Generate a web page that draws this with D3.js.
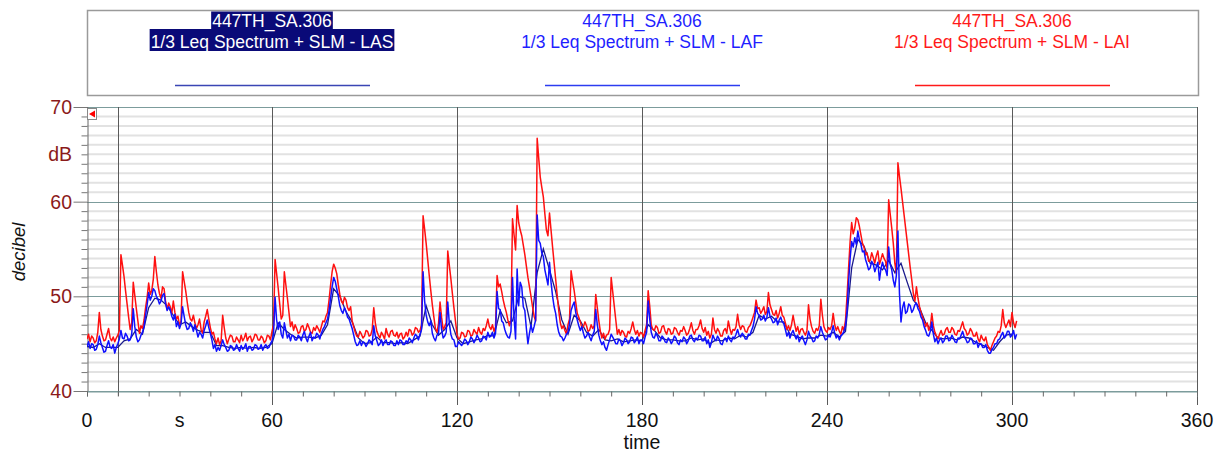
<!DOCTYPE html>
<html>
<head>
<meta charset="utf-8">
<script src="https://cdn.jsdelivr.net/npm/d3@7"></script>
<style>
  html, body { margin: 0; padding: 0; background: #fff; }
  svg { display: block; font-family: "Liberation Sans", Arial, sans-serif; }
</style>
</head>
<body>
<svg id="chart" width="1219" height="454"></svg>
<script>
// ---- data -------------------------------------------------------------
// Sound level records of 447TH_SA.306 (dB), one value every 0.5 s
const laiValues = [
  45.5,46.0, 45.2,45.8, 45.6,45.1, 45.3,46.2, 48.3,46.5,
  45.8,45.3, 45.4,46.0, 46.6,45.6, 45.3,45.7, 45.2,45.6,
  45.9,46.4, 54.4,53.3, 52.1,50.6, 49.2,47.8, 46.5,47.2,
  51.5,50.1, 48.7,47.4, 46.1,46.9, 46.6,47.5, 48.8,49.9,
  51.4,50.2, 50.6,51.8, 54.2,52.6, 51.2,50.3, 49.8,51.0,
  50.8,49.4, 48.6,49.3, 48.9,48.2, 49.5,48.3, 47.6,47.9,
  46.9,47.4, 52.6,51.6, 50.6,49.4, 48.3,47.6, 47.4,48.0,
  47.2,46.6, 47.0,47.6, 46.5,46.1, 47.3,47.9, 48.6,47.6,
  46.7,46.0, 46.2,45.5, 45.0,45.6, 44.9,45.3, 48.0,46.7,
  45.6,45.0, 45.5,45.9, 45.8,45.2, 45.2,45.7, 45.4,45.1,
  45.9,45.3, 45.6,46.1, 45.3,45.7, 45.8,45.2, 45.5,46.0,
  45.9,45.4, 45.4,45.8, 45.6,45.1, 45.3,45.9, 45.8,45.4,
  46.3,47.0, 53.9,52.4, 50.9,49.2, 47.6,48.0, 52.6,51.2,
  49.8,48.3, 46.8,47.3, 46.4,47.0, 46.6,46.1, 46.2,46.8,
  46.9,46.3, 46.5,47.1, 46.7,46.2, 46.1,46.7, 46.4,46.9,
  46.6,46.2, 46.8,47.4, 47.3,47.9, 48.3,49.6, 51.2,52.6,
  53.4,53.0, 52.4,51.2, 50.2,49.5, 49.2,49.9, 49.6,48.8,
  48.5,48.9, 47.4,46.8, 46.2,45.8, 45.7,46.3, 46.0,45.6,
  45.8,46.4, 46.3,45.8, 45.9,46.5, 48.8,47.2, 46.3,45.9,
  45.6,46.2, 45.9,45.5, 46.6,46.0, 45.7,46.3, 46.4,45.9,
  45.8,46.2, 45.6,46.0, 46.1,45.5, 45.7,46.2, 45.8,46.5,
  46.4,45.9, 46.1,46.7, 46.6,46.2, 46.4,47.0, 58.5,57.1,
  55.6,53.9, 52.2,50.6, 49.1,47.8, 46.6,46.2, 47.1,49.4,
  47.8,46.5, 46.8,47.2, 54.8,53.3, 51.9,50.3, 48.8,47.4,
  46.0,45.5, 45.6,46.2, 46.1,45.7, 45.8,46.4, 46.3,45.8,
  45.9,46.5, 46.2,46.0, 46.7,46.2, 46.0,46.6, 46.4,46.9,
  47.6,46.8, 46.5,47.0, 46.3,46.8, 52.2,51.0, 51.3,50.5,
  49.6,48.9, 48.3,47.5, 46.9,47.4, 58.2,56.5, 54.9,59.6,
  57.8,57.0, 56.4,55.4, 54.4,53.2, 52.0,51.0, 50.0,48.9,
  47.9,47.4, 66.7,64.6, 62.6,61.5, 60.5,58.7, 57.0,56.4,
  58.8,57.0, 55.2,53.5, 51.8,50.1, 48.5,47.2, 46.6,46.9,
  46.4,46.0, 47.0,47.6, 52.7,51.6, 50.6,49.4, 48.2,47.8,
  47.3,46.7, 46.8,47.3, 46.9,46.3, 46.4,47.0, 46.6,46.9,
  50.2,48.8, 47.4,46.3, 45.6,46.1, 45.5,45.9, 46.0,46.5,
  52.0,50.5, 49.0,47.5, 46.0,46.5, 45.9,46.4, 46.2,45.8,
  45.7,46.3, 46.1,46.6, 47.3,46.5, 46.0,46.4, 45.8,46.2,
  46.1,45.7, 46.4,47.0, 50.6,49.0, 47.0,46.5, 46.4,46.9,
  46.7,46.1, 46.2,46.8, 46.9,46.3, 46.0,46.6, 46.5,46.0,
  46.1,46.7, 46.6,46.2, 45.9,46.4, 46.3,46.8, 46.4,45.9,
  46.1,46.6, 47.2,46.4, 46.0,46.5, 46.5,46.9, 47.5,46.6,
  46.2,46.7, 45.9,46.3, 45.6,46.0, 47.7,46.5, 46.1,46.6,
  46.3,45.8, 45.8,46.4, 46.6,46.1, 47.4,46.6, 46.0,46.5,
  46.4,46.8, 48.1,47.0, 46.5,46.9, 46.8,46.3, 46.2,46.7,
  46.9,47.3, 47.8,48.3, 49.6,48.7, 48.8,48.2, 48.5,48.9,
  48.1,48.4, 50.4,49.1, 48.6,48.1, 48.0,48.5, 47.7,48.2,
  48.9,48.0, 47.8,47.2, 46.5,46.9, 46.4,47.0, 48.0,47.1,
  46.3,46.8, 46.0,46.5, 46.6,46.2, 45.9,46.4, 49.1,47.6,
  46.8,46.3, 46.1,46.6, 46.4,46.9, 49.7,48.0, 46.8,46.4,
  46.2,46.7, 46.5,46.9, 48.2,47.0, 46.4,46.8, 46.3,46.0,
  46.8,46.4, 47.5,50.0, 53.0,55.8, 57.8,56.6, 57.2,58.3,
  58.1,57.4, 56.5,55.6, 55.2,54.4, 54.6,53.7, 53.8,54.6,
  54.1,53.5, 54.3,54.8, 53.4,53.9, 54.5,54.0, 53.7,52.9,
  60.2,58.7, 57.2,55.6, 53.5,52.4, 64.1,62.7, 61.4,60.0,
  58.6,57.2, 55.8,54.4, 53.0,51.7, 50.3,49.5, 51.0,49.8,
  48.9,48.3, 47.8,47.3, 46.8,47.2, 46.4,46.8, 48.2,46.9,
  46.2,45.8, 45.5,46.0, 46.4,45.9, 46.0,46.5, 46.7,46.2,
  46.2,46.7, 46.5,46.0, 45.9,46.4, 46.3,46.8, 47.3,46.6,
  46.4,45.9, 46.1,46.6, 46.3,45.8, 45.8,46.2, 45.5,45.2,
  45.9,45.5, 45.3,45.7, 44.9,44.6, 44.3,44.8, 45.2,45.6,
  45.8,46.3, 46.2,46.9, 48.6,47.2, 46.7,47.1, 47.5,46.8,
  48.3,47.2, 46.7,47.4
];

const lafValues = [
  44.7,45.2, 44.5,45.0, 44.9,44.3, 44.4,44.9, 45.8,45.1,
  44.6,44.1, 44.2,44.8, 45.3,44.6, 44.5,44.9, 44.0,44.6,
  45.0,45.5, 46.4,45.6, 45.5,46.1, 45.8,45.3, 45.4,46.0,
  48.7,46.8, 45.7,45.2, 45.4,45.9, 46.2,46.8, 48.0,49.1,
  50.4,49.6, 50.0,50.8, 50.6,50.0, 49.7,49.2, 49.5,50.1,
  50.3,49.2, 48.5,48.9, 48.6,47.9, 47.5,48.1, 46.8,47.3,
  46.6,47.1, 48.9,47.9, 47.0,46.5, 46.6,47.2, 46.9,46.3,
  47.0,46.4, 45.7,46.2, 46.0,45.6, 46.4,46.9, 47.5,46.7,
  46.1,45.4, 44.5,44.9, 44.2,44.6, 44.3,44.8, 45.4,44.9,
  44.6,44.2, 44.3,44.8, 44.7,44.3, 44.4,44.9, 44.5,44.2,
  44.8,44.4, 44.6,45.0, 44.2,44.7, 44.7,44.3, 44.4,44.9,
  44.8,44.4, 44.5,44.9, 44.3,44.7, 44.9,44.5, 44.6,45.0,
  45.3,46.0, 49.9,47.5, 46.5,47.3, 46.0,45.6, 47.2,46.4,
  45.6,46.0, 45.3,45.9, 45.8,45.4, 45.4,45.9, 45.7,45.3,
  45.9,46.3, 45.6,45.2, 45.8,46.2, 45.3,45.7, 45.6,46.1,
  45.9,45.5, 46.1,46.5, 46.8,47.2, 47.6,48.5, 49.8,51.0,
  52.0,51.6, 50.8,50.0, 49.0,48.5, 48.2,48.8, 48.4,47.8,
  47.6,47.1, 46.6,45.9, 45.2,44.8, 44.9,45.3, 44.8,45.2,
  45.1,44.7, 45.0,45.4, 45.2,44.9, 46.9,45.8, 45.3,44.8,
  45.0,45.4, 44.8,45.2, 45.4,44.9, 44.9,45.3, 45.2,44.8,
  44.8,45.3, 44.9,45.4, 45.3,44.9, 44.9,45.3, 45.1,45.6,
  45.4,45.1, 45.6,46.0, 45.8,45.4, 46.0,46.5, 52.6,49.5,
  48.0,47.3, 46.9,47.4, 46.1,45.6, 45.3,45.9, 46.0,48.3,
  46.5,45.6, 45.8,46.2, 49.4,47.2, 46.0,45.5, 45.4,44.7,
  44.7,45.2, 45.0,44.8, 45.1,45.5, 45.3,44.9, 45.2,45.7,
  45.5,45.1, 45.4,45.9, 45.6,45.2, 45.3,45.8, 45.7,45.4,
  46.2,45.7, 45.8,46.2, 45.6,46.1, 50.5,48.7, 48.6,47.4,
  47.2,46.5, 46.0,45.7, 45.6,46.3, 52.0,47.8, 45.5,52.9,
  49.0,51.5, 51.0,48.9, 48.5,46.6, 45.0,46.1, 47.0,46.2,
  46.8,47.5, 58.6,55.9, 55.6,54.6, 54.2,52.8, 52.0,51.2,
  53.6,51.5, 50.0,48.9, 48.2,47.0, 46.2,45.8, 45.7,45.3,
  45.6,46.0, 46.2,47.1, 48.5,49.0, 49.4,48.3, 47.5,46.9,
  46.4,46.8, 46.1,45.6, 45.8,46.2, 45.7,45.3, 45.9,46.3,
  48.6,47.0, 45.9,45.3, 44.9,45.2, 44.6,44.3, 44.9,45.4,
  46.0,45.7, 45.4,45.0, 45.0,45.5, 45.3,44.8, 45.1,45.6,
  45.4,45.0, 45.2,45.7, 45.6,45.1, 45.3,45.7, 45.0,45.4,
  45.4,45.0, 45.7,46.2, 49.5,47.6, 46.2,45.7, 45.6,46.1,
  45.8,45.3, 45.3,45.8, 45.6,45.2, 45.1,45.6, 45.4,45.0,
  45.3,45.8, 45.6,45.1, 44.9,45.4, 45.2,45.7, 45.5,45.0,
  45.3,45.8, 45.9,45.4, 45.2,45.6, 45.4,45.9, 45.8,45.3,
  45.3,45.7, 45.0,45.4, 44.6,45.1, 45.9,45.5, 45.3,45.8,
  45.5,45.0, 44.9,45.4, 45.6,45.2, 45.8,45.4, 45.2,45.7,
  45.6,46.0, 46.5,45.9, 45.7,46.1, 45.9,45.5, 45.5,46.0,
  45.9,46.4, 46.8,47.6, 48.9,48.2, 48.0,47.5, 47.6,48.0,
  47.4,47.8, 48.8,47.9, 47.6,47.2, 47.3,47.7, 47.0,47.5,
  47.8,47.3, 47.1,46.5, 45.8,46.2, 45.6,46.1, 46.4,45.9,
  45.5,45.9, 45.2,45.6, 45.8,45.3, 44.9,45.4, 46.3,45.8,
  45.6,45.2, 45.3,45.8, 45.6,46.0, 46.8,46.2, 45.8,45.4,
  45.5,45.9, 45.7,46.2, 46.9,46.1, 45.6,45.9, 45.4,45.8,
  46.0,46.3, 46.9,48.5, 51.5,54.0, 55.8,55.2, 56.2,55.5,
  56.9,56.0, 55.5,54.7, 54.8,53.9, 53.4,52.8, 53.0,53.7,
  53.4,52.6, 53.1,53.6, 51.7,52.9, 53.6,53.0, 52.8,52.2,
  55.2,53.4, 52.8,51.7, 51.0,52.2, 56.9,50.3, 47.3,48.8,
  49.4,48.2, 48.4,49.2, 49.0,48.3, 48.6,49.1, 49.3,48.7,
  48.4,47.8, 47.5,46.8, 46.4,45.9, 45.8,46.3, 47.3,46.0,
  45.2,45.6, 45.0,45.4, 45.6,45.1, 45.3,45.8, 45.8,45.3,
  45.4,45.9, 45.6,45.2, 45.1,45.6, 45.5,45.9, 46.3,45.7,
  45.5,45.1, 45.2,45.6, 45.5,45.0, 45.0,45.3, 44.6,45.0,
  45.0,44.6, 44.6,44.9, 44.3,44.0, 44.0,44.4, 44.6,45.0,
  45.0,45.4, 45.5,45.9, 46.2,45.6, 45.8,46.3, 46.3,45.7,
  45.9,46.4, 45.5,46.0
];

// slow weighting, one value every 2 s
const lasValues = [
  44.7, 44.6, 45.0, 44.6, 44.6, 44.6, 45.3, 45.5, 46.5, 46.0,
  48.8, 49.8, 49.6, 49.0, 48.0, 47.0, 47.3, 46.8, 46.4, 46.2,
  46.2, 44.8, 44.8, 44.6, 44.5, 44.6, 44.5, 44.6, 44.5, 44.6,
  45.0, 47.2, 46.5, 46.0, 45.6, 45.7, 45.7, 45.6, 45.9, 47.0,
  50.8, 50.0, 48.4, 47.3, 45.6, 45.0, 45.1, 45.7, 45.1, 45.1,
  45.0, 45.1, 45.0, 45.4, 45.8, 49.0, 47.0, 45.9, 46.5, 47.4,
  45.6, 45.0, 45.2, 45.4, 45.5, 45.9, 45.8, 48.5, 47.2, 47.4,
  50.0, 49.8, 46.8, 52.5, 55.0, 52.8, 50.5, 47.5, 46.0, 48.0,
  47.4, 46.2, 45.8, 46.5, 45.4, 45.3, 45.5, 45.2, 45.3, 45.4,
  45.3, 47.0, 46.4, 45.6, 45.4, 45.4, 45.3, 45.3, 45.6, 45.4,
  45.5, 45.0, 45.4, 45.3, 45.6, 45.5, 45.9, 45.7, 46.2, 48.0,
  47.6, 47.9, 47.3, 47.3, 46.0, 45.8, 45.5, 45.6, 45.6, 45.9,
  45.8, 46.2, 45.7, 46.3, 53.0, 56.0, 55.3, 53.5, 53.3, 52.8,
  53.8, 52.5, 53.5, 51.5, 49.6, 48.8, 47.2, 46.4, 45.6, 45.5,
  45.6, 45.4, 45.7, 45.6, 45.2, 44.9, 44.6, 44.3, 45.2, 45.9,
  46.0
];

const lafStep = 0.5, laiStep = 0.5, lasStep = 2;   // seconds between samples

// Axis definitions
const xDomain = [0, 360];
const yDomain = [40, 70];
const xMajorTicks = [0, 60, 120, 180, 240, 300, 360];
const xGridTimes = [10, 60, 120, 180, 240, 300, 360];
const yMajorTicks = [40, 50, 60, 70];

// Legend entries
const fileName = "447TH_SA.306";
const legendItems = [
  { label: "1/3 Leq Spectrum + SLM - LAS", color: "#3a46b4", text: "#ffffff", highlight: "#0a0a78" },
  { label: "1/3 Leq Spectrum + SLM - LAF", color: "#2c3cf0", text: "#1f1fff", highlight: null },
  { label: "1/3 Leq Spectrum + SLM - LAI", color: "#ff1a1a", text: "#ff1a1a", highlight: null }
];

// ---- layout -----------------------------------------------------------
const svg = d3.select("#chart");
const plot = { left: 87, right: 1197, top: 107, bottom: 391 };

const x = d3.scaleLinear().domain(xDomain).range([plot.left, plot.right]);
const y = d3.scaleLinear().domain(yDomain).range([plot.bottom, plot.top]);

const axisRed = "#8b1a1a";
const tealGrid = "#7c9c9c";

// ---- legend box ---------------------------------------------------------
const legend = svg.append("g");
legend.append("rect")
  .attr("x", 87.5).attr("y", 10.5)
  .attr("width", 1111).attr("height", 85)
  .attr("fill", "#fff").attr("stroke", "#9a9a9a").attr("stroke-width", 1.5);

const legendCenters = [60, 180, 300].map(v => x(v));
legendItems.forEach((item, i) => {
  const cx = legendCenters[i];
  const g = legend.append("g");
  const lines = [fileName, item.label];
  const baselines = [26.5, 47.5];
  const texts = lines.map((s, k) => g.append("text")
    .attr("x", cx).attr("y", baselines[k])
    .attr("text-anchor", "middle")
    .attr("font-size", 17.5)
    .attr("fill", item.text)
    .text(s));
  if (item.highlight) {
    const boxes = [[11.5, 29], [29, 51]];
    texts.forEach((t, k) => {
      const bb = t.node().getBBox();
      g.insert("rect", "text")
        .attr("x", bb.x - 1).attr("y", boxes[k][0])
        .attr("width", bb.width + 2).attr("height", boxes[k][1] - boxes[k][0])
        .attr("fill", item.highlight);
    });
  }
  g.append("line")
    .attr("x1", cx - 97).attr("x2", cx + 98)
    .attr("y1", 85.5).attr("y2", 85.5)
    .attr("stroke", item.color).attr("stroke-width", 1.6);
});

// ---- grid -------------------------------------------------------------
const grid = svg.append("g");
const minorY = d3.range(41, 70, 1).filter(v => v % 10 !== 0);
grid.selectAll("line.hminor").data(minorY).join("line")
  .attr("x1", plot.left).attr("x2", plot.right)
  .attr("y1", d => y(d)).attr("y2", d => y(d))
  .attr("stroke", "#e2e2e2").attr("stroke-width", 2);

grid.selectAll("line.hmajor").data(yMajorTicks).join("line")
  .attr("x1", plot.left).attr("x2", plot.right)
  .attr("y1", d => Math.round(y(d)) + 0.5).attr("y2", d => Math.round(y(d)) + 0.5)
  .attr("stroke", tealGrid).attr("stroke-width", 1);

grid.selectAll("line.vgrid").data(xGridTimes).join("line")
  .attr("x1", d => Math.round(x(d)) + 0.5).attr("x2", d => Math.round(x(d)) + 0.5)
  .attr("y1", plot.top).attr("y2", d => d % 60 === 0 ? 405 : plot.bottom + 5)
  .attr("stroke", "#5a5a5a").attr("stroke-width", 1);

// ---- axes -------------------------------------------------------------
// y axis: minor ticks every 1 dB, major every 10 dB
const yAxis = d3.axisLeft(y)
  .tickValues(d3.range(40, 71, 1))
  .tickSize(6)
  .tickFormat("");
const yAxisG = svg.append("g")
  .attr("transform", `translate(${plot.left + 0.5},0)`)
  .call(yAxis);
yAxisG.select(".domain").attr("stroke", "#666");
yAxisG.selectAll(".tick line").attr("stroke", "#777")
  .attr("x2", d => d % 10 === 0 ? -14 : -6);

svg.append("g").selectAll("text").data(yMajorTicks).join("text")
  .attr("x", 72).attr("y", d => y(d))
  .attr("dy", "0.36em")
  .attr("text-anchor", "end")
  .attr("font-size", 19.5)
  .attr("fill", axisRed)
  .text(d => d);

svg.append("text")
  .attr("x", 72).attr("y", y(65)).attr("dy", "0.36em")
  .attr("text-anchor", "end").attr("font-size", 19.5)
  .attr("fill", axisRed).text("dB");

svg.append("text")
  .attr("transform", `translate(25,${252}) rotate(-90)`)
  .attr("text-anchor", "middle")
  .attr("font-size", 18.5).attr("font-style", "italic")
  .attr("fill", "#111").text("decibel");

// x axis: minor ticks every 10 s, labels every 60 s
const xAxis = d3.axisBottom(x)
  .tickValues(d3.range(0, 361, 10))
  .tickSize(5)
  .tickFormat("");
const xAxisG = svg.append("g")
  .attr("transform", `translate(0,${Math.round(plot.bottom) + 0.5})`)
  .call(xAxis);
xAxisG.select(".domain").attr("stroke", tealGrid);
xAxisG.selectAll(".tick line").attr("stroke", "#666");

svg.append("g").selectAll("text").data(xMajorTicks).join("text")
  .attr("x", d => x(d)).attr("y", 427)
  .attr("text-anchor", "middle")
  .attr("font-size", 19.5).attr("fill", "#111")
  .text(d => d);

svg.append("text").attr("x", x(30)).attr("y", 427)
  .attr("text-anchor", "middle").attr("font-size", 19.5)
  .attr("fill", "#111").text("s");

svg.append("text").attr("x", x(180)).attr("y", 449)
  .attr("text-anchor", "middle").attr("font-size", 19.5)
  .attr("fill", "#111").text("time");

// ---- series -------------------------------------------------------------
svg.append("clipPath").attr("id", "plotclip")
  .append("rect").attr("x", plot.left).attr("y", plot.top)
  .attr("width", plot.right - plot.left).attr("height", plot.bottom - plot.top);

const line = d3.line().x(d => x(d.t)).y(d => y(d.v));
const toPoints = (vals, step) => vals.map((v, i) => ({ t: i * step, v }));

const series = svg.append("g").attr("clip-path", "url(#plotclip)");
series.append("path").datum(toPoints(lasValues, lasStep))
  .attr("d", line).attr("fill", "none")
  .attr("stroke", "#1a1a8c").attr("stroke-width", 1.3);
series.append("path").datum(toPoints(laiValues, laiStep))
  .attr("d", line).attr("fill", "none")
  .attr("stroke", "#ff1010").attr("stroke-width", 1.5)
  .attr("stroke-linejoin", "round");
series.append("path").datum(toPoints(lafValues, lafStep))
  .attr("d", line).attr("fill", "none")
  .attr("stroke", "#1010ff").attr("stroke-width", 1.5)
  .attr("stroke-linejoin", "round");

// ---- cursor flag at the top-left corner --------------------------------
const flag = svg.append("g");
flag.append("rect").attr("x", 87.5).attr("y", 108.5)
  .attr("width", 9).attr("height", 11)
  .attr("fill", "#fff").attr("stroke", "#888");
flag.append("path")
  .attr("d", "M89,114 L95,110.5 L95,117.5 Z")
  .attr("fill", "#ff0000");
</script>
</body>
</html>
